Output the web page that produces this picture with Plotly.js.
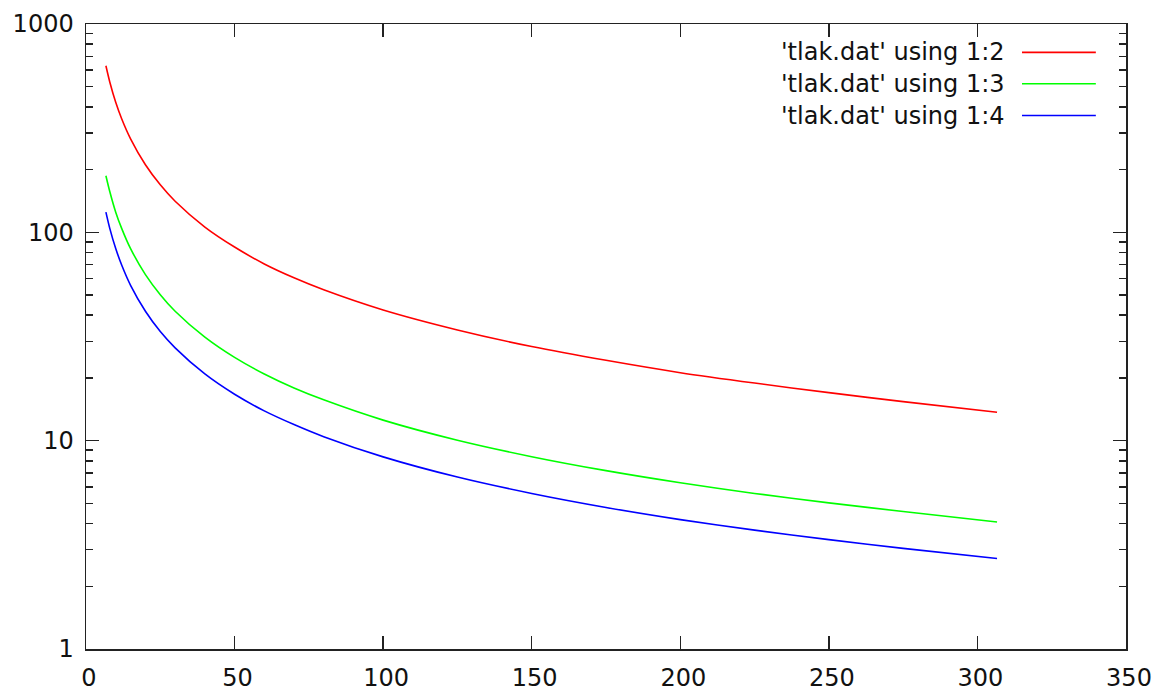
<!DOCTYPE html>
<html>
<head>
<meta charset="utf-8">
<script src="https://cdn.plot.ly/plotly-3.0.1.min.js"></script>
<style>html,body{margin:0;padding:0;background:#fff;}#chart{width:1154px;height:694px;}</style>
</head>
<body>
<div id="chart"></div>
<script>
// x values (column 1 of tlak.dat)
const xValues = [6.7, 8, 10, 12, 15, 20, 25, 30, 40, 50, 60, 70, 80, 100, 125, 150, 175, 200, 225, 250, 275, 306.6];
// column 2
const col2 = [630, 527, 421, 351, 281, 211, 169, 141, 106, 85, 70.5, 60.5, 53, 42.4, 34, 28.3, 24.3, 21.2, 18.9, 17.0, 15.4, 13.7];
// column 3
const col3 = [187, 157, 125, 104.5, 83.5, 62.7, 50.2, 41.8, 31.4, 25.1, 20.9, 17.9, 15.7, 12.55, 10.05, 8.38, 7.18, 6.28, 5.58, 5.03, 4.57, 4.07];
// column 4
const col4 = [125, 104.5, 83.6, 69.7, 55.7, 41.8, 33.4, 27.9, 20.9, 16.7, 13.9, 11.95, 10.45, 8.36, 6.69, 5.58, 4.78, 4.18, 3.72, 3.35, 3.04, 2.72];

const seriesNames = ["'tlak.dat' using 1:2", "'tlak.dat' using 1:3", "'tlak.dat' using 1:4"];
const seriesColors = ["#ff0000", "#00ff00", "#0000ff"];
const seriesData = [col2, col3, col4];

const xTicks = [0, 50, 100, 150, 200, 250, 300, 350];
const yTicks = [1, 10, 100, 1000];
const yTickText = ["1", "10", "100", "1000"];

const traces = seriesData.map((ys, i) => ({
  type: 'scatter',
  mode: 'lines',
  x: xValues,
  y: ys,
  name: seriesNames[i],
  line: {color: seriesColors[i], width: 1.6, shape: 'spline', smoothing: 0.8},
  hoverinfo: 'skip'
}));

const font = {family: 'DejaVu Sans, sans-serif', size: 24, color: '#111'};

// gnuplot-style key: text right aligned, sample line to its right
const annotations = [];
const shapes = [];
const keyY = [0.9546, 0.9045, 0.8535];
seriesNames.forEach((n, i) => {
  annotations.push({
    xref: 'paper', yref: 'paper', x: 0.886, y: keyY[i],
    xanchor: 'right', yanchor: 'middle', text: n, showarrow: false,
    font: font
  });
  shapes.push({
    type: 'line', xref: 'paper', yref: 'paper',
    x0: 0.900, x1: 0.971, y0: keyY[i], y1: keyY[i],
    line: {color: seriesColors[i], width: 1.6}
  });
});

const layout = {
  width: 1154, height: 694,
  margin: {l: 86, r: 28, t: 24, b: 45},
  paper_bgcolor: '#fff', plot_bgcolor: '#fff',
  showlegend: false,
  font: font,
  xaxis: {
    range: [0, 350], tickvals: xTicks, ticktext: xTicks.map(String),
    ticks: 'inside', ticklen: 13, tickwidth: 1.5, tickcolor: '#222',
    showline: true, linecolor: '#222', linewidth: 1.5, mirror: 'ticks',
    showgrid: false, zeroline: false,
    ticklabelshift: 3, ticklabelstandoff: 7,
    tickfont: font
  },
  yaxis: {
    type: 'log', range: [0, 3], tickvals: yTicks, ticktext: yTickText,
    ticks: 'inside', ticklen: 13, tickwidth: 1.5, tickcolor: '#222',
    showline: true, linecolor: '#222', linewidth: 1.5, mirror: 'ticks',
    showgrid: false, zeroline: false,
    minor: {ticks: 'inside', ticklen: 7, tickwidth: 1.5, tickcolor: '#222', dtick: 'D1', showgrid: false},
    ticklabelstandoff: 6,
    tickfont: font
  },
  annotations: annotations,
  shapes: shapes
};

Plotly.newPlot('chart', traces, layout, {displayModeBar: false, staticPlot: true});
</script>
</body>
</html>
